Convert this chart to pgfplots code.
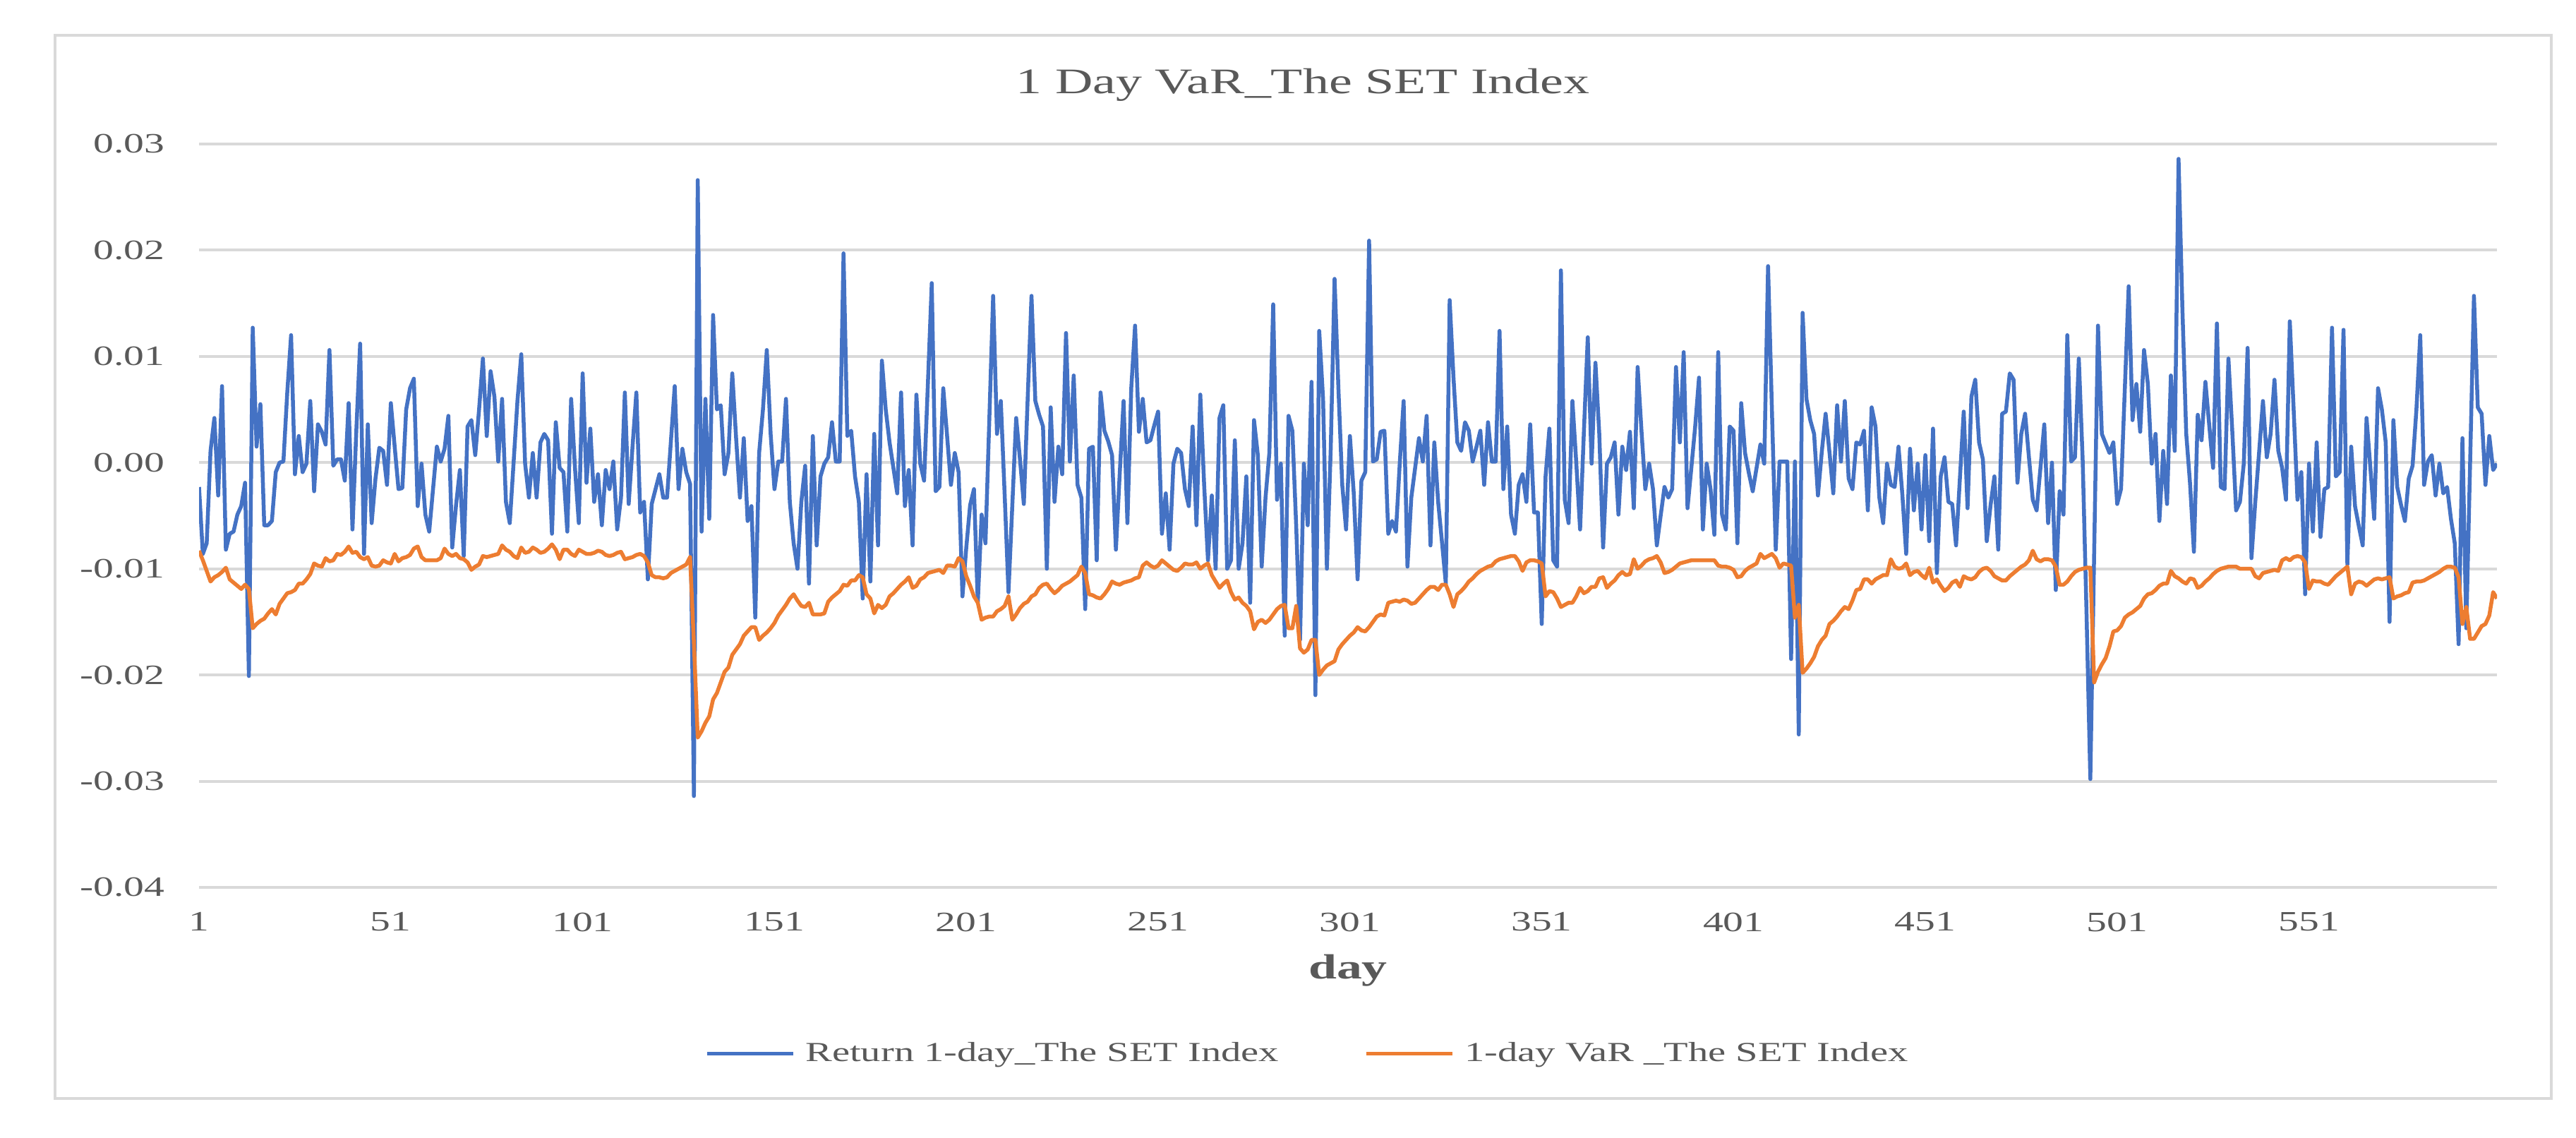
\documentclass[border=0pt]{standalone}
\usepackage{fontspec}
\setmainfont{Liberation Serif}[FakeStretch=1.45]
\usepackage{pgfplots}
\usepackage{pgfplotstable}
\pgfplotsset{compat=1.18}
\definecolor{xlblue}{HTML}{4472C4}
\definecolor{xlorange}{HTML}{ED7D31}
\definecolor{xlgrid}{HTML}{D9D9D9}
\definecolor{xltext}{HTML}{595959}
\pgfplotstableread{
day ret var
1 -0.0023 -0.0083
2 -0.0086 -0.0092
3 -0.0076 -0.0102
4 0.0011 -0.0112
5 0.0042 -0.0108
6 -0.0031 -0.0106
7 0.0072 -0.0103
8 -0.0082 -0.0099
9 -0.0067 -0.0110
10 -0.0065 -0.0113
11 -0.0049 -0.0116
12 -0.0041 -0.0119
13 -0.0019 -0.0115
14 -0.0201 -0.0119
15 0.0127 -0.0156
16 0.0015 -0.0152
17 0.0055 -0.0149
18 -0.0059 -0.0147
19 -0.0059 -0.0142
20 -0.0055 -0.0138
21 -0.0009 -0.0143
22 0.0000 -0.0133
23 0.0001 -0.0128
24 0.0066 -0.0123
25 0.0120 -0.0122
26 -0.0011 -0.0120
27 0.0025 -0.0114
28 -0.0009 -0.0114
29 -0.0001 -0.0110
30 0.0058 -0.0105
31 -0.0027 -0.0095
32 0.0036 -0.0097
33 0.0029 -0.0098
34 0.0017 -0.0090
35 0.0106 -0.0093
36 -0.0003 -0.0092
37 0.0003 -0.0086
38 0.0003 -0.0087
39 -0.0017 -0.0084
40 0.0056 -0.0079
41 -0.0063 -0.0085
42 0.0030 -0.0084
43 0.0112 -0.0089
44 -0.0086 -0.0091
45 0.0036 -0.0089
46 -0.0057 -0.0097
47 -0.0015 -0.0098
48 0.0014 -0.0097
49 0.0011 -0.0092
50 -0.0021 -0.0094
51 0.0056 -0.0095
52 0.0015 -0.0086
53 -0.0025 -0.0093
54 -0.0024 -0.0090
55 0.0050 -0.0089
56 0.0070 -0.0087
57 0.0079 -0.0081
58 -0.0041 -0.0079
59 -0.0001 -0.0089
60 -0.0049 -0.0092
61 -0.0065 -0.0092
62 -0.0025 -0.0092
63 0.0015 -0.0092
64 0.0001 -0.0090
65 0.0013 -0.0081
66 0.0044 -0.0086
67 -0.0080 -0.0088
68 -0.0040 -0.0086
69 -0.0007 -0.0090
70 -0.0088 -0.0091
71 0.0034 -0.0094
72 0.0040 -0.0101
73 0.0007 -0.0098
74 0.0050 -0.0096
75 0.0098 -0.0088
76 0.0025 -0.0089
77 0.0086 -0.0088
78 0.0062 -0.0087
79 0.0001 -0.0086
80 0.0060 -0.0078
81 -0.0037 -0.0082
82 -0.0057 -0.0084
83 0.0000 -0.0088
84 0.0058 -0.0090
85 0.0102 -0.0080
86 -0.0001 -0.0085
87 -0.0033 -0.0084
88 0.0009 -0.0080
89 -0.0033 -0.0082
90 0.0019 -0.0085
91 0.0027 -0.0084
92 0.0021 -0.0081
93 -0.0067 -0.0077
94 0.0038 -0.0082
95 -0.0005 -0.0091
96 -0.0009 -0.0082
97 -0.0065 -0.0082
98 0.0060 -0.0086
99 -0.0005 -0.0088
100 -0.0057 -0.0082
101 0.0084 -0.0084
102 -0.0019 -0.0086
103 0.0032 -0.0086
104 -0.0037 -0.0085
105 -0.0011 -0.0083
106 -0.0059 -0.0084
107 -0.0007 -0.0087
108 -0.0025 -0.0088
109 0.0001 -0.0087
110 -0.0063 -0.0085
111 -0.0033 -0.0084
112 0.0066 -0.0091
113 -0.0039 -0.0090
114 0.0015 -0.0089
115 0.0066 -0.0087
116 -0.0047 -0.0086
117 -0.0037 -0.0088
118 -0.0110 -0.0094
119 -0.0039 -0.0106
120 -0.0025 -0.0108
121 -0.0011 -0.0108
122 -0.0033 -0.0109
123 -0.0033 -0.0108
124 0.0020 -0.0104
125 0.0072 -0.0102
126 -0.0025 -0.0100
127 0.0013 -0.0098
128 -0.0009 -0.0096
129 -0.0020 -0.0089
130 -0.0314 -0.0170
131 0.0266 -0.0259
132 -0.0065 -0.0253
133 0.0060 -0.0245
134 -0.0053 -0.0239
135 0.0139 -0.0223
136 0.0050 -0.0217
137 0.0054 -0.0207
138 -0.0011 -0.0197
139 0.0009 -0.0193
140 0.0084 -0.0181
141 0.0023 -0.0176
142 -0.0033 -0.0171
143 0.0023 -0.0163
144 -0.0055 -0.0159
145 -0.0041 -0.0155
146 -0.0146 -0.0155
147 0.0009 -0.0167
148 0.0050 -0.0163
149 0.0106 -0.0160
150 0.0027 -0.0156
151 -0.0025 -0.0151
152 0.0001 -0.0144
153 0.0001 -0.0139
154 0.0060 -0.0134
155 -0.0037 -0.0128
156 -0.0076 -0.0124
157 -0.0100 -0.0130
158 -0.0037 -0.0135
159 -0.0003 -0.0136
160 -0.0114 -0.0132
161 0.0025 -0.0143
162 -0.0078 -0.0143
163 -0.0013 -0.0143
164 -0.0001 -0.0142
165 0.0005 -0.0131
166 0.0038 -0.0127
167 0.0001 -0.0124
168 0.0001 -0.0121
169 0.0197 -0.0115
170 0.0025 -0.0116
171 0.0030 -0.0111
172 -0.0013 -0.0111
173 -0.0037 -0.0106
174 -0.0128 -0.0108
175 -0.0011 -0.0124
176 -0.0112 -0.0128
177 0.0027 -0.0142
178 -0.0078 -0.0134
179 0.0096 -0.0137
180 0.0050 -0.0134
181 0.0019 -0.0126
182 -0.0005 -0.0123
183 -0.0029 -0.0119
184 0.0066 -0.0115
185 -0.0041 -0.0112
186 -0.0007 -0.0108
187 -0.0078 -0.0118
188 0.0064 -0.0116
189 -0.0001 -0.0110
190 -0.0017 -0.0108
191 0.0075 -0.0104
192 0.0169 -0.0103
193 -0.0027 -0.0102
194 -0.0023 -0.0101
195 0.0070 -0.0104
196 0.0025 -0.0097
197 -0.0021 -0.0097
198 0.0009 -0.0098
199 -0.0009 -0.0090
200 -0.0126 -0.0093
201 -0.0080 -0.0107
202 -0.0040 -0.0116
203 -0.0025 -0.0126
204 -0.0132 -0.0132
205 -0.0049 -0.0148
206 -0.0076 -0.0146
207 0.0040 -0.0145
208 0.0157 -0.0145
209 0.0027 -0.0140
210 0.0058 -0.0138
211 -0.0030 -0.0135
212 -0.0122 -0.0126
213 -0.0040 -0.0148
214 0.0042 -0.0143
215 0.0003 -0.0137
216 -0.0039 -0.0133
217 0.0060 -0.0131
218 0.0157 -0.0126
219 0.0058 -0.0124
220 0.0045 -0.0118
221 0.0034 -0.0115
222 -0.0100 -0.0114
223 0.0052 -0.0119
224 -0.0037 -0.0123
225 0.0015 -0.0120
226 -0.0011 -0.0116
227 0.0122 -0.0114
228 0.0001 -0.0112
229 0.0082 -0.0109
230 -0.0021 -0.0106
231 -0.0033 -0.0098
232 -0.0138 -0.0104
233 0.0013 -0.0124
234 0.0015 -0.0125
235 -0.0092 -0.0127
236 0.0066 -0.0128
237 0.0030 -0.0124
238 0.0020 -0.0119
239 0.0007 -0.0112
240 -0.0082 -0.0114
241 -0.0010 -0.0115
242 0.0058 -0.0113
243 -0.0057 -0.0112
244 0.0070 -0.0111
245 0.0129 -0.0109
246 0.0029 -0.0108
247 0.0060 -0.0097
248 0.0019 -0.0094
249 0.0021 -0.0097
250 0.0035 -0.0099
251 0.0048 -0.0097
252 -0.0067 -0.0092
253 -0.0029 -0.0095
254 -0.0082 -0.0098
255 -0.0001 -0.0101
256 0.0013 -0.0102
257 0.0009 -0.0099
258 -0.0025 -0.0095
259 -0.0041 -0.0096
260 0.0034 -0.0096
261 -0.0059 -0.0094
262 0.0064 -0.0100
263 -0.0021 -0.0097
264 -0.0092 -0.0095
265 -0.0031 -0.0106
266 -0.0100 -0.0112
267 0.0042 -0.0118
268 0.0054 -0.0114
269 -0.0100 -0.0111
270 -0.0092 -0.0122
271 0.0021 -0.0129
272 -0.0100 -0.0127
273 -0.0076 -0.0132
274 -0.0013 -0.0135
275 -0.0132 -0.0140
276 0.0040 -0.0157
277 0.0007 -0.0150
278 -0.0098 -0.0148
279 -0.0033 -0.0151
280 0.0009 -0.0148
281 0.0149 -0.0143
282 -0.0035 -0.0138
283 -0.0001 -0.0135
284 -0.0163 -0.0134
285 0.0044 -0.0156
286 0.0030 -0.0156
287 -0.0060 -0.0135
288 -0.0167 -0.0175
289 -0.0001 -0.0179
290 -0.0059 -0.0176
291 0.0076 -0.0167
292 -0.0219 -0.0167
293 0.0124 -0.0200
294 0.0060 -0.0195
295 -0.0100 -0.0191
296 0.0013 -0.0189
297 0.0173 -0.0187
298 0.0070 -0.0176
299 -0.0021 -0.0171
300 -0.0063 -0.0167
301 0.0025 -0.0163
302 -0.0029 -0.0160
303 -0.0110 -0.0155
304 -0.0017 -0.0158
305 -0.0009 -0.0159
306 0.0209 -0.0155
307 0.0001 -0.0150
308 0.0003 -0.0145
309 0.0029 -0.0143
310 0.0030 -0.0144
311 -0.0067 -0.0132
312 -0.0055 -0.0131
313 -0.0065 -0.0130
314 0.0000 -0.0131
315 0.0058 -0.0129
316 -0.0098 -0.0130
317 -0.0033 -0.0133
318 -0.0005 -0.0132
319 0.0023 -0.0128
320 0.0001 -0.0124
321 0.0044 -0.0120
322 -0.0078 -0.0117
323 0.0019 -0.0117
324 -0.0037 -0.0120
325 -0.0075 -0.0115
326 -0.0114 -0.0115
327 0.0153 -0.0124
328 0.0080 -0.0136
329 0.0019 -0.0124
330 0.0011 -0.0121
331 0.0038 -0.0117
332 0.0030 -0.0112
333 0.0001 -0.0109
334 0.0015 -0.0105
335 0.0030 -0.0102
336 -0.0021 -0.0100
337 0.0038 -0.0098
338 0.0001 -0.0097
339 0.0001 -0.0093
340 0.0124 -0.0091
341 -0.0025 -0.0090
342 0.0034 -0.0089
343 -0.0049 -0.0088
344 -0.0067 -0.0088
345 -0.0021 -0.0093
346 -0.0011 -0.0102
347 -0.0037 -0.0094
348 0.0036 -0.0092
349 -0.0047 -0.0092
350 -0.0047 -0.0093
351 -0.0152 -0.0095
352 -0.0013 -0.0126
353 0.0032 -0.0121
354 -0.0092 -0.0122
355 -0.0098 -0.0128
356 0.0181 -0.0136
357 -0.0035 -0.0134
358 -0.0057 -0.0132
359 0.0058 -0.0132
360 0.0000 -0.0126
361 -0.0063 -0.0118
362 0.0030 -0.0123
363 0.0118 -0.0121
364 -0.0001 -0.0117
365 0.0094 -0.0117
366 0.0027 -0.0109
367 -0.0080 -0.0108
368 -0.0001 -0.0118
369 0.0005 -0.0114
370 0.0019 -0.0111
371 -0.0049 -0.0106
372 0.0015 -0.0103
373 -0.0007 -0.0106
374 0.0029 -0.0105
375 -0.0043 -0.0091
376 0.0090 -0.0100
377 0.0030 -0.0097
378 -0.0025 -0.0093
379 -0.0001 -0.0091
380 -0.0025 -0.0090
381 -0.0078 -0.0088
382 -0.0050 -0.0094
383 -0.0023 -0.0104
384 -0.0033 -0.0103
385 -0.0025 -0.0101
386 0.0090 -0.0098
387 0.0019 -0.0095
388 0.0104 -0.0094
389 -0.0043 -0.0093
390 -0.0005 -0.0092
391 0.0034 -0.0092
392 0.0080 -0.0092
393 -0.0063 -0.0092
394 -0.0001 -0.0092
395 -0.0025 -0.0092
396 -0.0068 -0.0092
397 0.0104 -0.0097
398 -0.0049 -0.0098
399 -0.0063 -0.0098
400 0.0034 -0.0099
401 0.0030 -0.0101
402 -0.0076 -0.0108
403 0.0056 -0.0107
404 0.0009 -0.0102
405 -0.0010 -0.0099
406 -0.0027 -0.0097
407 -0.0005 -0.0095
408 0.0017 -0.0086
409 -0.0001 -0.0090
410 0.0185 -0.0088
411 0.0050 -0.0086
412 -0.0082 -0.0090
413 0.0001 -0.0099
414 0.0001 -0.0095
415 0.0001 -0.0096
416 -0.0185 -0.0097
417 0.0001 -0.0146
418 -0.0256 -0.0134
419 0.0141 -0.0198
420 0.0060 -0.0194
421 0.0040 -0.0189
422 0.0027 -0.0183
423 -0.0031 -0.0173
424 0.0010 -0.0167
425 0.0046 -0.0163
426 0.0010 -0.0152
427 -0.0029 -0.0149
428 0.0054 -0.0145
429 0.0001 -0.0140
430 0.0058 -0.0136
431 -0.0015 -0.0138
432 -0.0025 -0.0130
433 0.0019 -0.0120
434 0.0017 -0.0119
435 0.0030 -0.0110
436 -0.0045 -0.0110
437 0.0052 -0.0114
438 0.0034 -0.0110
439 -0.0033 -0.0108
440 -0.0057 -0.0106
441 -0.0001 -0.0106
442 -0.0021 -0.0091
443 -0.0023 -0.0098
444 0.0015 -0.0100
445 -0.0030 -0.0099
446 -0.0086 -0.0095
447 0.0013 -0.0106
448 -0.0045 -0.0103
449 -0.0001 -0.0102
450 -0.0063 -0.0106
451 0.0007 -0.0109
452 -0.0074 -0.0099
453 0.0032 -0.0113
454 -0.0104 -0.0110
455 -0.0013 -0.0116
456 0.0005 -0.0121
457 -0.0037 -0.0118
458 -0.0039 -0.0113
459 -0.0078 -0.0111
460 -0.0015 -0.0117
461 0.0048 -0.0107
462 -0.0043 -0.0109
463 0.0062 -0.0110
464 0.0078 -0.0108
465 0.0019 -0.0103
466 0.0003 -0.0100
467 -0.0074 -0.0099
468 -0.0040 -0.0102
469 -0.0013 -0.0107
470 -0.0082 -0.0109
471 0.0046 -0.0111
472 0.0048 -0.0111
473 0.0084 -0.0107
474 0.0078 -0.0104
475 -0.0019 -0.0101
476 0.0027 -0.0098
477 0.0046 -0.0096
478 0.0005 -0.0092
479 -0.0035 -0.0083
480 -0.0045 -0.0091
481 -0.0005 -0.0093
482 0.0036 -0.0091
483 -0.0057 -0.0091
484 0.0000 -0.0092
485 -0.0120 -0.0098
486 -0.0027 -0.0115
487 -0.0049 -0.0115
488 0.0120 -0.0112
489 0.0001 -0.0107
490 0.0005 -0.0103
491 0.0098 -0.0101
492 0.0003 -0.0100
493 -0.0140 -0.0099
494 -0.0298 -0.0099
495 -0.0085 -0.0207
496 0.0129 -0.0197
497 0.0027 -0.0190
498 0.0018 -0.0184
499 0.0009 -0.0173
500 0.0019 -0.0159
501 -0.0039 -0.0158
502 -0.0025 -0.0154
503 0.0070 -0.0146
504 0.0166 -0.0143
505 0.0040 -0.0141
506 0.0074 -0.0138
507 0.0029 -0.0135
508 0.0106 -0.0128
509 0.0074 -0.0124
510 -0.0001 -0.0123
511 0.0027 -0.0120
512 -0.0055 -0.0116
513 0.0011 -0.0114
514 -0.0039 -0.0114
515 0.0082 -0.0102
516 0.0011 -0.0107
517 0.0286 -0.0109
518 0.0145 -0.0112
519 0.0027 -0.0114
520 -0.0020 -0.0109
521 -0.0084 -0.0110
522 0.0045 -0.0118
523 0.0021 -0.0116
524 0.0076 -0.0112
525 0.0035 -0.0109
526 -0.0005 -0.0105
527 0.0131 -0.0102
528 -0.0023 -0.0100
529 -0.0025 -0.0099
530 0.0098 -0.0098
531 0.0030 -0.0098
532 -0.0045 -0.0098
533 -0.0037 -0.0100
534 -0.0001 -0.0100
535 0.0108 -0.0100
536 -0.0090 -0.0100
537 -0.0037 -0.0107
538 0.0010 -0.0109
539 0.0058 -0.0104
540 0.0005 -0.0103
541 0.0027 -0.0102
542 0.0078 -0.0101
543 0.0011 -0.0102
544 -0.0005 -0.0092
545 -0.0035 -0.0090
546 0.0133 -0.0092
547 0.0050 -0.0089
548 -0.0035 -0.0088
549 -0.0009 -0.0089
550 -0.0124 -0.0094
551 -0.0001 -0.0119
552 -0.0065 -0.0111
553 0.0019 -0.0112
554 -0.0070 -0.0112
555 -0.0025 -0.0114
556 -0.0023 -0.0115
557 0.0127 -0.0111
558 -0.0013 -0.0107
559 -0.0009 -0.0104
560 0.0125 -0.0101
561 -0.0096 -0.0098
562 0.0015 -0.0124
563 -0.0041 -0.0114
564 -0.0060 -0.0112
565 -0.0078 -0.0113
566 0.0042 -0.0116
567 -0.0005 -0.0113
568 -0.0053 -0.0110
569 0.0070 -0.0109
570 0.0050 -0.0110
571 0.0019 -0.0109
572 -0.0150 -0.0108
573 0.0040 -0.0128
574 -0.0023 -0.0126
575 -0.0040 -0.0125
576 -0.0055 -0.0123
577 -0.0015 -0.0122
578 -0.0003 -0.0113
579 0.0050 -0.0112
580 0.0120 -0.0112
581 -0.0021 -0.0111
582 0.0001 -0.0109
583 0.0007 -0.0107
584 -0.0031 -0.0105
585 -0.0001 -0.0103
586 -0.0029 -0.0100
587 -0.0023 -0.0098
588 -0.0053 -0.0098
589 -0.0076 -0.0099
590 -0.0171 -0.0108
591 0.0023 -0.0152
592 -0.0156 -0.0136
593 0.0000 -0.0166
594 0.0157 -0.0166
595 0.0052 -0.0160
596 0.0046 -0.0154
597 -0.0021 -0.0152
598 0.0025 -0.0144
599 -0.0007 -0.0122
600 -0.0001 -0.0128
}\data
\begin{document}
\begin{tikzpicture}[x=1cm,y=1cm]
\path[use as bounding box] (0,0) rectangle (36.5,16.12);
\draw[xlgrid, line width=0.04cm] (0.78,0.56) rectangle (36.15,15.62);
\node[anchor=base, inner sep=0pt, text=xltext, font=\fontsize{14.5}{17}\selectfont] at (18.46,14.79) {1 Day VaR\_The SET Index};
\begin{axis}[
  at={(2.82cm,3.55cm)}, anchor=south west,
  width=32.56cm, height=10.53cm, scale only axis,
  xmin=1, xmax=600, ymin=-0.04, ymax=0.03,
  scaled x ticks=false, scaled y ticks=false,
  axis line style={draw=none},
  major tick length=0pt,
  xtick={1,51,101,151,201,251,301,351,401,451,501,551},
  xticklabels={1,51,101,151,201,251,301,351,401,451,501,551},
  ytick={-0.04,-0.03,-0.02,-0.01,0,0.01,0.02,0.03},
  yticklabels={-0.04,-0.03,-0.02,-0.01,0.00,0.01,0.02,0.03},
  ymajorgrids, grid style={xlgrid, line width=0.04cm},
  tick label style={font=\fontsize{11.3}{13}\selectfont, text=xltext},
  xticklabel style={anchor=north, inner sep=0pt, yshift=-0.35cm},
  yticklabel style={anchor=east, inner sep=0pt, xshift=-0.48cm},
  xlabel={day},
  xlabel style={at={(axis description cs:0.5,0)}, anchor=base, inner sep=0pt, yshift=-1.30cm, text=xltext, font=\bfseries\fontsize{14.1}{16}\selectfont},
  legend columns=2,
  legend style={at={(axis description cs:0.482,-0.224)}, anchor=center, draw=none, fill=none,
    font=\fontsize{11.1}{13}\selectfont, text=xltext, inner sep=0pt,
    nodes={inner sep=0pt},
    /tikz/every odd column/.append style={column sep=0.15cm},
    /tikz/every even column/.append style={column sep=1.21cm}},
  legend image code/.code={\draw[#1, line width=0.05cm] (0cm,0cm) -- (1.22cm,0cm);},
]
\addplot[xlblue, line width=0.055cm, line join=round, no markers] table[x=day, y=ret] {\data};
\addlegendentry{Return 1-day\_The SET Index}
\addplot[xlorange, line width=0.055cm, line join=round, no markers] table[x=day, y=var] {\data};
\addlegendentry{1-day VaR \_The SET Index}
\end{axis}
\end{tikzpicture}
\end{document}
